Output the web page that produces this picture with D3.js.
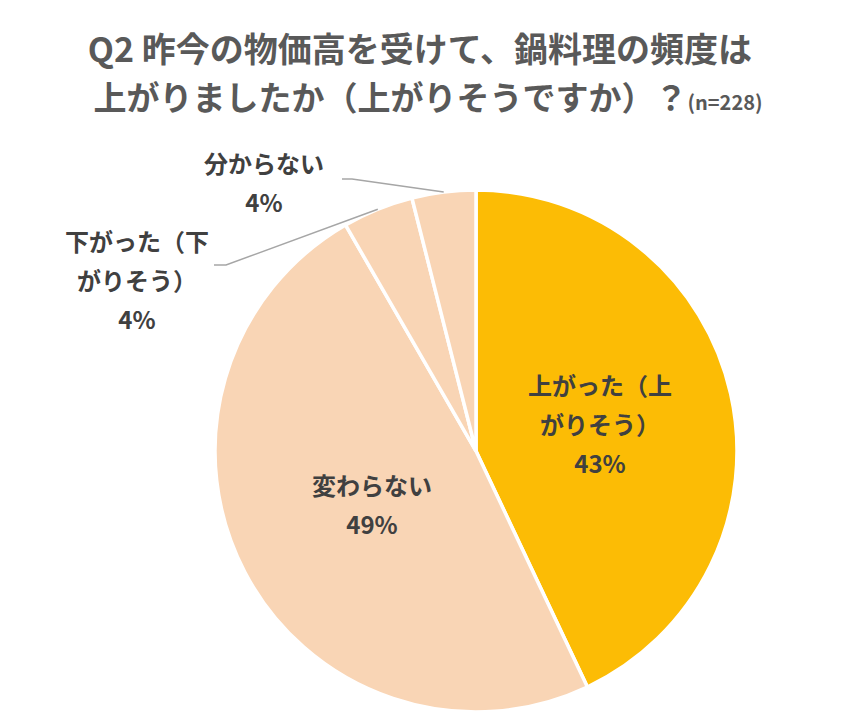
<!DOCTYPE html>
<html><head><meta charset="utf-8">
<script src="https://cdn.jsdelivr.net/npm/d3@7"></script>
<style>body{margin:0;background:#fff}</style>
</head><body>
<svg id="chart" width="867" height="722"></svg>
<script>
// DATA
var categories = ['上がった（上がりそう）', '変わらない', '下がった（下がりそう）', '分からない'];
var counts     = [98, 111, 10, 9];           // n=228
var percents   = ['43%', '49%', '4%', '4%'];
var labelLines = [['上がった（上', 'がりそう）'], ['変わらない'], ['下がった（下', 'がりそう）'], ['分からない']];
var colors     = ['#FCBC05', '#F9D5B5', '#F9D5B5', '#F9D5B5'];

var svg = d3.select('#chart');
var font = '"Noto Sans CJK JP", "Noto Sans", sans-serif';

// Title
var title = svg.append('text').attr('text-anchor', 'middle')
    .attr('font-family', font).attr('font-weight', 'bold').attr('fill', '#595959');
title.append('tspan').attr('x', 420).attr('y', 62).attr('font-size', 34)
    .text('Q2 昨今の物価高を受けて、鍋料理の頻度は');
var t2 = title.append('tspan').attr('x', 428).attr('y', 110).attr('font-size', 33);
t2.append('tspan').text('上がりましたか（上がりそうですか）？');
t2.append('tspan').attr('font-size', 20).text('(n=228)');

// Pie
var cx = 476, cy = 451, r = 261;
var pie = d3.pie().sort(null).value(function( d ) { return d; });
var arc = d3.arc().innerRadius(0).outerRadius(r);
var arcs = pie(counts);

var g = svg.append('g').attr('transform', 'translate(' + cx + ',' + cy + ')');
g.selectAll('path').data(arcs).enter().append('path')
    .attr('d', arc)
    .attr('fill', function( d, i ) { return colors[i]; })
    .attr('stroke', '#fff').attr('stroke-width', 3.5);

// Label positions (relative to centre)
var labelPos = [[124, -56], [-104, 44], [-339, -200], [-212, -278]];
var lineH = 39;

labelPos.forEach(function( p, i ) {
    var lines = labelLines[i].concat([percents[i]]);
    var t = g.append('text').attr('text-anchor', 'middle')
        .attr('font-family', font).attr('font-weight', 'bold')
        .attr('font-size', 24).attr('fill', '#404040');
    lines.forEach(function( s, k ) {
        t.append('tspan').attr('x', p[0]).attr('y', p[1] + k * lineH).text(s);
    });
});

// Leader lines for small slices
function leader( d, pts ) {
    var a = (d.startAngle + d.endAngle) / 2;
    var end = [Math.sin(a) * r, -Math.cos(a) * r];
    g.append('polyline')
        .attr('points', pts.concat([end]).map(function( q ) { return q.join(','); }).join(' '))
        .attr('fill', 'none').attr('stroke', '#A6A6A6').attr('stroke-width', 1.5);
}
leader(arcs[2], [[-262, -186], [-250, -186]]);
leader(arcs[3], [[-134, -272], [-124, -272]]);
</script>
</body></html>
